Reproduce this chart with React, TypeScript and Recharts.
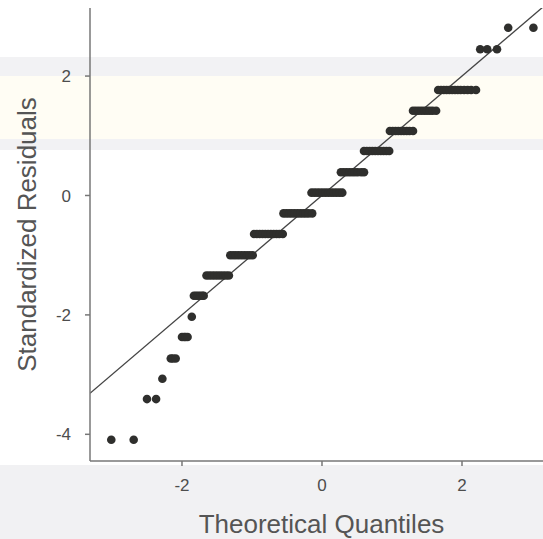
import {
  ScatterChart,
  Scatter,
  XAxis,
  YAxis,
  ReferenceLine,
  Label,
} from "recharts";

// standardized residual levels (the residuals come in discrete steps)
const residualLevels = [
  -4.09, -3.41, -3.07, -2.73, -2.37, -2.03, -1.68, -1.34, -1.0, -0.645, -0.3,
  0.047, 0.39, 0.745, 1.08, 1.42, 1.767, 2.45, 2.81,
];

// theoretical quantiles of the points sitting on each level
const quantileGroups = [
  [-3.01, -2.69],
  [-2.5, -2.37],
  [-2.28],
  [-2.16, -2.13, -2.09],
  [-2.0, -1.97, -1.95, -1.92],
  [-1.86],
  [-1.83, -1.8, -1.77, -1.74, -1.71, -1.69],
  [-1.65, -1.61, -1.57, -1.53, -1.49, -1.45, -1.41, -1.37, -1.33],
  [-1.31, -1.27, -1.23, -1.19, -1.15, -1.11, -1.07, -1.03, -0.99],
  [-0.97, -0.93, -0.89, -0.85, -0.81, -0.77, -0.73, -0.69, -0.65, -0.61, -0.56],
  [-0.55, -0.51, -0.47, -0.43, -0.39, -0.35, -0.31, -0.27, -0.23, -0.19, -0.14],
  [-0.15, -0.11, -0.07, -0.03, 0.01, 0.05, 0.09, 0.13, 0.17, 0.21, 0.25, 0.29],
  [0.27, 0.31, 0.35, 0.39, 0.43, 0.47, 0.51, 0.56, 0.6],
  [0.6, 0.64, 0.68, 0.72, 0.76, 0.8, 0.84, 0.88, 0.92, 0.96],
  [0.97, 1.01, 1.05, 1.09, 1.13, 1.17, 1.21, 1.25, 1.3],
  [1.3, 1.34, 1.38, 1.42, 1.46, 1.5, 1.54, 1.58, 1.63],
  [1.66, 1.7, 1.74, 1.78, 1.82, 1.86, 1.9, 1.94, 1.98, 2.03, 2.08, 2.13, 2.2],
  [2.26, 2.36, 2.5],
  [2.66, 3.02],
];

const xTicks = [-2, 0, 2];
const yTicks = [-4, -2, 0, 2];
const xDomain = [-3.314, 3.157];
const yDomain = [-4.447, 3.14];
// reference line y = intercept + slope * x
const qqSlope = 1;
const qqIntercept = 0;

const points = quantileGroups.flatMap((xs, i) =>
  xs.map((x) => ({ x, y: residualLevels[i] }))
);

const font = "Liberation Sans, Arial, sans-serif";
const tickStyle = { fill: "#4d4d4d", fontSize: 17, fontFamily: font };
const titleStyle = { fill: "#555", fontSize: 26, fontFamily: font };

// faint watermark bands behind the plot
const pageBackground =
  "linear-gradient(to bottom, #fff 0px, #fff 57px, #f2f2f4 57px, #f2f2f4 76px," +
  " #fffdf4 76px, #fffdf4 139px, #f2f2f4 139px, #f2f2f4 150px, #fff 150px," +
  " #fff 465px, #f1f1f3 465px, #f1f1f3 539px)";

const Dot = (props: any) => (
  <circle cx={props.cx} cy={props.cy} r={4.3} fill="#2f2f2d" />
);

export default function App() {
  return (
    <div
      style={{
        position: "absolute",
        left: 0,
        top: 0,
        width: 543,
        height: 539,
        background: pageBackground,
      }}
    >
      <ScatterChart
        width={543}
        height={539}
        margin={{ top: 8, right: 0, bottom: 0, left: 0 }}
      >
        <XAxis
          type="number"
          dataKey="x"
          domain={xDomain}
          allowDataOverflow
          ticks={xTicks}
          height={78}
          stroke="#777"
          strokeWidth={1.5}
          tickSize={5}
          tickMargin={13}
          tick={tickStyle}
        >
          <Label
            value="Theoretical Quantiles"
            position="insideBottom"
            offset={6}
            dx={5}
            style={titleStyle}
          />
        </XAxis>
        <YAxis
          type="number"
          dataKey="y"
          domain={yDomain}
          allowDataOverflow
          ticks={yTicks}
          width={90}
          stroke="#777"
          strokeWidth={1.5}
          tickSize={5}
          tickMargin={14}
          tick={tickStyle}
        >
          <Label
            value="Standardized Residuals"
            angle={-90}
            position="insideLeft"
            offset={0}
            dx={27}
            style={{ ...titleStyle, textAnchor: "middle" }}
          />
        </YAxis>
        <ReferenceLine
          segment={[
            { x: xDomain[0], y: qqIntercept + qqSlope * xDomain[0] },
            { x: xDomain[1], y: qqIntercept + qqSlope * xDomain[1] },
          ]}
          stroke="#444"
          strokeWidth={1.3}
          ifOverflow="hidden"
        />
        <Scatter data={points} shape={Dot} isAnimationActive={false} />
      </ScatterChart>
    </div>
  );
}
